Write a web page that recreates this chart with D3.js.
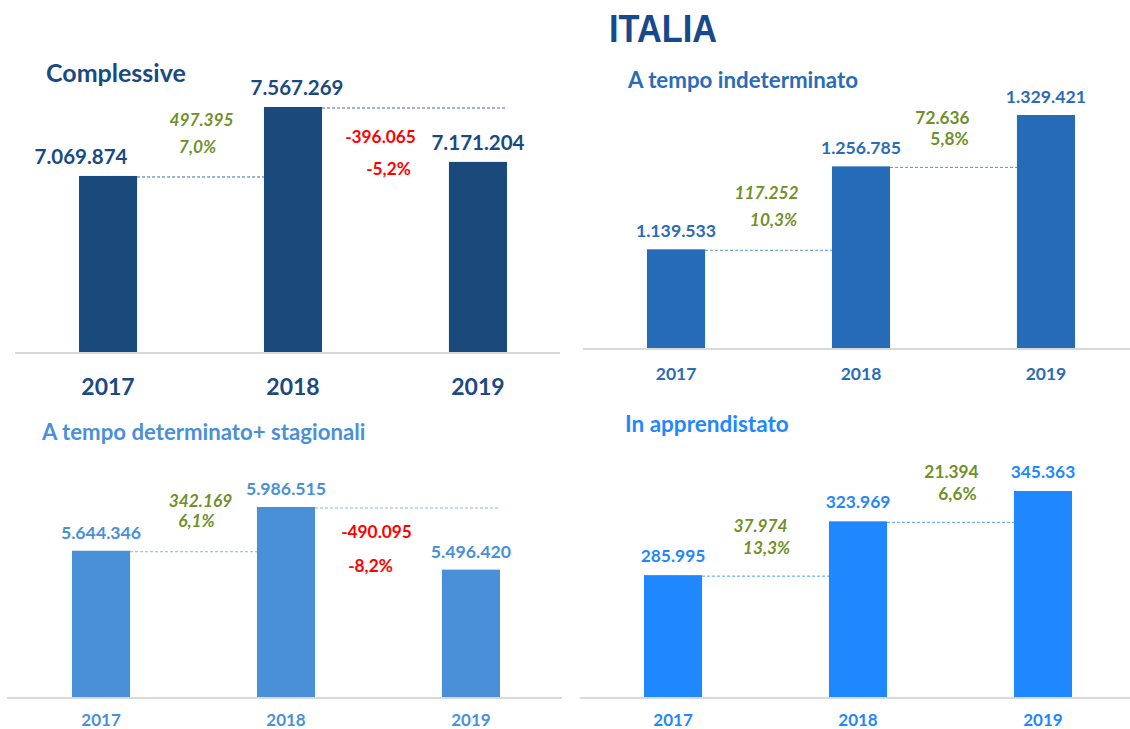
<!DOCTYPE html>
<html>
<head>
<meta charset="utf-8">
<script src="https://cdn.jsdelivr.net/npm/d3@7"></script>
<style>
  body { margin: 0; background: #fff; }
  svg { display: block; font-family: Lato, "Open Sans", sans-serif; }
</style>
</head>
<body>
<div id="chart"></div>
<script>
// data
const years = ["2017", "2018", "2019"];
const complessive = [7069874, 7567269, 7171204];
const indeterminato = [1139533, 1256785, 1329421];
const determinato = [5644346, 5986515, 5496420];
const apprendistato = [285995, 323969, 345363];

const it = d3.formatLocale({decimal: ",", thousands: ".", grouping: [3], currency: ["€", ""], minus: "-"});
const fmtNum = it.format(",d");
const fmtPct = it.format(".1%");

const W = 1130, H = 729;
const svg = d3.select("#chart").append("svg")
    .attr("width", W)
    .attr("height", H);

svg.append("text")
    .attr("x", 609).attr("y", 42)
    .attr("textLength", 108)
    .attr("lengthAdjust", "spacingAndGlyphs")
    .style("font-family", "'Liberation Sans', Arial, sans-serif")
    .style("font-weight", "bold")
    .style("font-size", "39px")
    .style("fill", "#164a8a")
    .text("ITALIA");

// panel layout (Excel-like, axis does not start at zero)
const panels = [
  {title: "Complessive", values: complessive, floor: 5800000,
   titleX: 46, titleY: 82, titleSize: 25,
   x0: 23.5, x1: 562.5, base: 352, top: 107, lineX: [15, 560],
   bar: "#1a4a7b", text: "#1a4a80", dash: "#3f6aa8",
   valSize: 20.5, valGap: 12, valDx: [-27, 4, 0],
   yearSize: 23, yearY: 395,
   chg: [{dx: [1, -3], y: [126, 153]}, {dx: [-5, 3], y: [143, 175]}]},
  {title: "A tempo indeterminato", values: indeterminato, floor: 1000000,
   titleX: 628, titleY: 88, titleSize: 22.3,
   x0: 591.5, x1: 1130.5, base: 348, top: 115, lineX: [583, 1130],
   bar: "#256bb7", text: "#2a6cb6", dash: "#5a8ed0",
   valSize: 17.7, valGap: 12, valDx: [0, 0, 0],
   yearSize: 17.5, yearY: 380,
   chg: [{dx: [-2, 5], y: [199, 226]}, {dx: [-11, -4], y: [124, 145]}]},
  {title: "A tempo determinato+ stagionali", values: determinato, floor: 4500000,
   titleX: 42, titleY: 440, titleSize: 22.2,
   x0: 16.5, x1: 555.5, base: 697, top: 507, lineX: [7, 562],
   bar: "#4a90d9", text: "#4a90d9", dash: "#86b5ea",
   valSize: 17.7, valGap: 12, valDx: [0, 0, 0],
   yearSize: 17, yearY: 726,
   chg: [{dx: [7, 3], y: [507, 527]}, {dx: [-2, -8], y: [538, 572]}]},
  {title: "In apprendistato", values: apprendistato, floor: 200000,
   titleX: 625, titleY: 432, titleSize: 22.5,
   x0: 588.5, x1: 1127.5, base: 697, top: 491, lineX: [580, 1130],
   bar: "#1f88fe", text: "#1f88fe", dash: "#4a9fff",
   valSize: 17.4, valGap: 13, valDx: [0, 0, 0],
   yearSize: 17, yearY: 726,
   chg: [{dx: [-5, 1], y: [532, 554]}, {dx: [1, 7], y: [478, 500]}]}
];

panels.forEach(function(p) {
  const g = svg.append("g");

  const x = d3.scaleBand().domain(years)
      .range([p.x0, p.x1])
      .paddingInner(0.686)
      .paddingOuter(0.3);
  const y = d3.scaleLinear()
      .domain([p.floor, d3.max(p.values)])
      .range([p.base, p.top]);

  const rows = years.map(function(yr, i) { return {year: yr, value: p.values[i], i: i}; });

  g.append("text")
      .attr("x", p.titleX).attr("y", p.titleY)
      .style("font-weight", "bold")
      .style("font-size", p.titleSize + "px")
      .style("fill", p.text)
      .text(p.title);

  // axis line
  g.append("line")
      .attr("x1", p.lineX[0]).attr("x2", p.lineX[1])
      .attr("y1", p.base + 1).attr("y2", p.base + 1)
      .style("stroke", "#d9d9d9")
      .style("stroke-width", 2);

  // dashed connectors between consecutive bars
  g.selectAll(".conn")
    .data(rows.slice(0, -1))
    .enter().append("line")
      .attr("class", "conn")
      .attr("x1", function(d) { return x(d.year) + x.bandwidth(); })
      .attr("x2", function(d) { return x(years[d.i + 1]) + x.bandwidth(); })
      .attr("y1", function(d) { return y(d.value) + 1; })
      .attr("y2", function(d) { return y(d.value) + 1; })
      .style("stroke", p.dash)
      .style("stroke-width", 1)
      .style("stroke-dasharray", "3,2");

  g.selectAll(".bar")
    .data(rows)
    .enter().append("rect")
      .attr("class", "bar")
      .attr("x", function(d) { return x(d.year); })
      .attr("width", x.bandwidth())
      .attr("y", function(d) { return y(d.value); })
      .attr("height", function(d) { return p.base - y(d.value); })
      .style("fill", p.bar);

  g.selectAll(".val")
    .data(rows)
    .enter().append("text")
      .attr("class", "val")
      .attr("x", function(d) { return x(d.year) + x.bandwidth() / 2 + p.valDx[d.i]; })
      .attr("y", function(d) { return y(d.value) - p.valGap; })
      .attr("text-anchor", "middle")
      .style("font-weight", "bold")
      .style("font-size", p.valSize + "px")
      .style("fill", p.text)
      .text(function(d) { return fmtNum(d.value); });

  // year labels
  const ax = g.append("g")
      .attr("transform", "translate(0," + p.yearY + ")")
      .call(d3.axisBottom(x).tickSize(0).tickPadding(0));
  ax.select(".domain").remove();
  ax.selectAll("text")
      .attr("dy", 0)
      .style("font-family", "Lato, 'Open Sans', sans-serif")
      .style("font-weight", "bold")
      .style("font-size", p.yearSize + "px")
      .style("fill", p.text);

  // change labels between bars
  rows.slice(1).forEach(function(d, k) {
    const prev = rows[k];
    const diff = d.value - prev.value;
    const pct = diff / prev.value;
    const mid = (x(prev.year) + x.bandwidth() + x(d.year)) / 2;
    const c = p.chg[k];
    const col = diff < 0 ? "#ff0000" : "#71902a";
    const italic = k === 0 ? "italic" : "normal";
    [fmtNum(diff), fmtPct(pct)].forEach(function(t, j) {
      g.append("text")
          .attr("x", mid + c.dx[j])
          .attr("y", c.y[j])
          .attr("text-anchor", "middle")
          .style("font-weight", "bold")
          .style("font-style", italic)
          .style("font-size", "17.3px")
          .style("fill", col)
          .text(t);
    });
  });
});
</script>
</body>
</html>
